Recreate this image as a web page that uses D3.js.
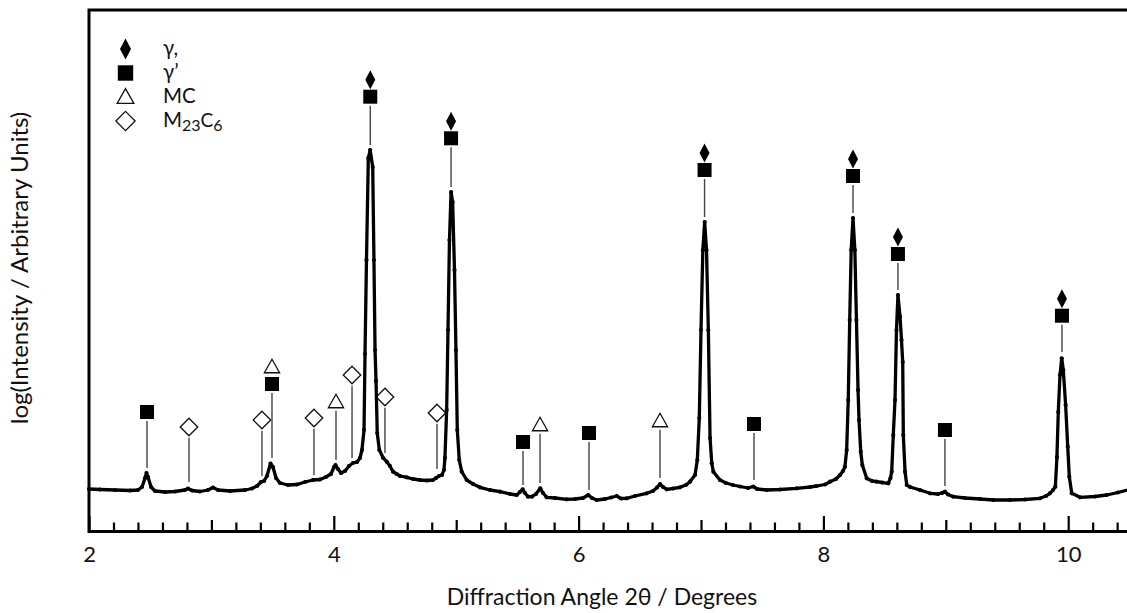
<!DOCTYPE html>
<html>
<head>
<meta charset="utf-8">
<script src="https://cdn.jsdelivr.net/npm/d3@7"></script>
<style>
  html, body { margin: 0; padding: 0; background: #fff; }
  svg { display: block; }
  text { font-family: Lato, "Open Sans", sans-serif; fill: #111; }
</style>
</head>
<body>
<svg id="chart" width="1127" height="613"></svg>
<script>
// Diffraction pattern: 2θ (degrees) and log intensity (arbitrary units)
const twoTheta = [
  2.000, 2.090, 2.212, 2.335, 2.400, 2.433, 2.458, 2.470, 2.482, 2.507,
  2.539, 2.621, 2.703, 2.784, 2.809, 2.842, 2.907, 2.972, 3.013, 3.054,
  3.152, 3.275, 3.332, 3.373, 3.405, 3.430, 3.454, 3.483, 3.503, 3.528,
  3.560, 3.626, 3.699, 3.765, 3.830, 3.887, 3.936, 3.977, 4.002, 4.014,
  4.034, 4.059, 4.092, 4.124, 4.157, 4.190, 4.214, 4.230, 4.247, 4.255,
  4.267, 4.282, 4.297, 4.318, 4.328, 4.337, 4.345, 4.355, 4.372, 4.404,
  4.432, 4.459, 4.484, 4.514, 4.541, 4.596, 4.647, 4.704, 4.761, 4.810,
  4.835, 4.859, 4.884, 4.900, 4.908, 4.922, 4.933, 4.945, 4.958, 4.971,
  4.986, 4.998, 5.009, 5.025, 5.045, 5.086, 5.137, 5.194, 5.276, 5.358,
  5.440, 5.494, 5.521, 5.543, 5.562, 5.587, 5.619, 5.652, 5.687, 5.709,
  5.739, 5.807, 5.903, 5.971, 6.036, 6.079, 6.109, 6.148, 6.216, 6.265,
  6.311, 6.346, 6.393, 6.461, 6.556, 6.608, 6.641, 6.665, 6.690, 6.720,
  6.771, 6.828, 6.877, 6.910, 6.951, 6.970, 6.986, 7.000, 7.015, 7.030,
  7.045, 7.060, 7.074, 7.088, 7.101, 7.155, 7.204, 7.261, 7.319, 7.384,
  7.427, 7.458, 7.537, 7.646, 7.782, 7.891, 7.945, 8.013, 8.054, 8.103,
  8.136, 8.160, 8.176, 8.190, 8.203, 8.215, 8.227, 8.242, 8.257, 8.270,
  8.283, 8.291, 8.305, 8.318, 8.354, 8.397, 8.435, 8.479, 8.530, 8.548,
  8.558, 8.571, 8.585, 8.597, 8.609, 8.626, 8.638, 8.648, 8.653, 8.667,
  8.681, 8.708, 8.789, 8.871, 8.936, 8.969, 8.993, 9.018, 9.061, 9.157,
  9.279, 9.388, 9.525, 9.647, 9.770, 9.819, 9.851, 9.876, 9.895, 9.908,
  9.919, 9.933, 9.947, 9.960, 9.979, 9.996, 10.009, 10.029, 10.097, 10.219,
  10.315, 10.407, 10.500
];
const logIntensity = [
  2.425, 2.420, 2.415, 2.410, 2.415, 2.445, 2.535, 2.585, 2.545, 2.445,
  2.405, 2.395, 2.400, 2.415, 2.430, 2.410, 2.400, 2.415, 2.440, 2.415,
  2.405, 2.415, 2.430, 2.455, 2.495, 2.505, 2.555, 2.680, 2.645, 2.535,
  2.485, 2.465, 2.470, 2.495, 2.515, 2.520, 2.545, 2.575, 2.645, 2.665,
  2.625, 2.585, 2.605, 2.655, 2.685, 2.695, 2.735, 2.815, 3.015, 3.775,
  4.715, 5.735, 5.815, 5.645, 4.715, 3.815, 3.505, 2.985, 2.815, 2.735,
  2.698, 2.655, 2.598, 2.575, 2.555, 2.542, 2.525, 2.515, 2.510, 2.515,
  2.535, 2.555, 2.565, 2.615, 2.735, 3.215, 4.015, 4.915, 5.395, 5.295,
  4.615, 3.815, 3.015, 2.715, 2.598, 2.515, 2.475, 2.442, 2.415, 2.398,
  2.375, 2.365, 2.395, 2.422, 2.385, 2.348, 2.348, 2.375, 2.432, 2.385,
  2.342, 2.335, 2.322, 2.325, 2.335, 2.365, 2.335, 2.315, 2.325, 2.340,
  2.355, 2.330, 2.332, 2.355, 2.382, 2.405, 2.440, 2.475, 2.445, 2.422,
  2.430, 2.442, 2.465, 2.498, 2.565, 2.715, 3.135, 4.015, 4.815, 5.095,
  4.815, 4.015, 2.935, 2.682, 2.598, 2.515, 2.485, 2.465, 2.450, 2.435,
  2.450, 2.425, 2.415, 2.420, 2.432, 2.445, 2.455, 2.470, 2.498, 2.525,
  2.565, 2.605, 2.648, 2.815, 3.315, 4.115, 4.815, 5.135, 4.815, 4.115,
  3.415, 3.115, 2.798, 2.665, 2.532, 2.505, 2.498, 2.490, 2.482, 2.535,
  2.598, 2.965, 3.315, 4.015, 4.365, 4.148, 3.915, 3.695, 2.965, 2.598,
  2.465, 2.445, 2.415, 2.382, 2.375, 2.385, 2.398, 2.370, 2.348, 2.335,
  2.325, 2.315, 2.315, 2.320, 2.332, 2.355, 2.382, 2.415, 2.448, 2.745,
  3.195, 3.565, 3.732, 3.615, 3.265, 2.848, 2.548, 2.382, 2.342, 2.350,
  2.365, 2.390, 2.420
];

// Indexed reflections: position, phases (bottom to top), marker level, stick foot
const markPos = [2.474, 2.817, 3.413, 3.495, 3.838, 4.018, 4.149, 4.298, 4.418, 4.843,
                 4.958, 5.546, 5.685, 6.085, 6.665, 7.029, 7.433, 8.242, 8.609, 8.993, 9.949];
const markPhases = [["gp"], ["m23"], ["m23"], ["gp", "mc"], ["m23"], ["mc"], ["m23"], ["gp", "g"], ["m23"], ["m23"],
                    ["gp", "g"], ["gp"], ["mc"], ["gp"], ["mc"], ["gp", "g"], ["gp"], ["gp", "g"], ["gp", "g"], ["gp"], ["gp", "g"]];
const markLevel = [3.195, 3.045, 3.115, 3.475, 3.135, 3.295, 3.565, 6.348, 3.345, 3.185,
                   5.932, 2.895, 3.065, 2.985, 3.105, 5.615, 3.075, 5.555, 4.775, 3.015, 4.158];
const markFoot = [2.635, 2.495, 2.555, 2.735, 2.565, 2.715, 2.735, 5.865, 2.785, 2.625,
                  5.445, 2.465, 2.485, 2.415, 2.535, 5.145, 2.515, 5.185, 4.415, 2.455, 3.795];

// Legend entries
const legendKeys = ["g", "gp", "mc", "m23"];

// Axis ticks
const majorTicks = [2, 4, 6, 8, 10];
const midTicks = [3, 5, 7, 9];
const minorTicks = [2.2, 2.4, 2.6, 2.8, 3.2, 3.4, 3.6, 3.8, 4.2, 4.4, 4.6, 4.8, 5.2, 5.4, 5.6, 5.8,
                    6.2, 6.4, 6.6, 6.8, 7.2, 7.4, 7.6, 7.8, 8.2, 8.4, 8.6, 8.8, 9.2, 9.4, 9.6, 9.8, 10.2, 10.4];

const xTitle = "Diffraction Angle 2θ / Degrees";
const yTitle = "log(Intensity / Arbitrary Units)";

// ---- layout ----
const svg = d3.select("#chart");
const plotLeft = 89, plotTop = 10, plotBottom = 531.5, pxPerDeg = 122.4;
const x = d3.scaleLinear().domain([2, 10.5]).range([plotLeft, plotLeft + 8.5 * pxPerDeg]);
const y = d3.scaleLinear().domain([2, 7.215]).range([plotBottom, plotTop]);

// symbol geometry
const sym = {
  g:   { half: 9.5,  draw: (g, s) => g.append("path").attr("d", `M0,${-9.5*s} L${5*s},0 L0,${9.5*s} L${-5*s},0 Z`).attr("fill", "#000") },
  gp:  { half: 7,    draw: (g, s) => g.append("rect").attr("x", -7*s).attr("y", -7*s).attr("width", 14*s).attr("height", 14*s).attr("fill", "#000") },
  mc:  { half: 6.75, draw: (g, s) => g.append("path").attr("d", `M0,${-6.75*s} L${7.6*s},${6.75*s} L${-7.6*s},${6.75*s} Z`).attr("fill", "#fff").attr("stroke", "#111").attr("stroke-width", 1.3) },
  m23: { half: 8.75, draw: (g, s) => g.append("path").attr("d", `M0,${-8.75*s} L${8.75*s},0 L0,${8.75*s} L${-8.75*s},0 Z`).attr("fill", "#fff").attr("stroke", "#111").attr("stroke-width", 1.3) }
};
const stackGap = 17;

// ---- frame ----
svg.append("rect")
  .attr("x", x(2)).attr("y", plotTop)
  .attr("width", x(10.5) - x(2)).attr("height", plotBottom - plotTop)
  .attr("fill", "none").attr("stroke", "#000").attr("stroke-width", 3);

// ---- x axis (inward ticks) ----
function tickLayer(values, size, labels) {
  const ax = d3.axisBottom(x).tickValues(values).tickSize(-size).tickSizeOuter(0);
  if (labels) ax.tickFormat(d3.format("d")).tickPadding(14.5);
  else ax.tickFormat("");
  const g = svg.append("g").attr("transform", `translate(0,${plotBottom})`).call(ax);
  g.select(".domain").remove();
  g.selectAll(".tick line").attr("stroke", "#000").attr("stroke-width", 2.2);
  g.selectAll(".tick text").attr("font-size", 22).attr("fill", "#111")
    .style("font-family", "Lato, 'Open Sans', sans-serif");
  return g;
}
tickLayer(minorTicks, 9, false);
tickLayer(midTicks, 11.5, false);
tickLayer(majorTicks, 15.5, true);

// ---- axis titles ----
svg.append("text")
  .attr("x", 602).attr("y", 605)
  .attr("text-anchor", "middle").attr("font-size", 23)
  .text(xTitle);

svg.append("text")
  .attr("transform", `translate(28,268) rotate(-90)`)
  .attr("text-anchor", "middle").attr("font-size", 24)
  .text(yTitle);

// ---- indexing sticks and markers ----
const marks = svg.append("g");
markPos.forEach((p, i) => {
  const cx = x(p);
  const cy = y(markLevel[i]);
  const phases = markPhases[i];
  const lowest = sym[phases[0]];
  marks.append("line")
    .attr("x1", cx).attr("x2", cx)
    .attr("y1", cy + lowest.half + 2).attr("y2", y(markFoot[i]))
    .attr("stroke", "#444").attr("stroke-width", 1.4);
  phases.forEach((ph, k) => {
    const g = marks.append("g").attr("transform", `translate(${cx},${cy - k * stackGap - (ph === "mc" ? 1 : 0)})`);
    sym[ph].draw(g, 1);
  });
});

// ---- pattern ----
const pts = twoTheta.map((t, i) => [t, logIntensity[i]]);
svg.append("clipPath").attr("id", "plotclip")
  .append("rect").attr("x", 0).attr("y", 0).attr("width", 1127).attr("height", plotBottom - 1.5);
const curveG = svg.append("g").attr("clip-path", "url(#plotclip)");
curveG.append("path")
  .datum(pts)
  .attr("d", d3.line().x(d => x(d[0])).y(d => y(d[1])))
  .attr("fill", "none").attr("stroke", "#000")
  .attr("stroke-width", 3.3).attr("stroke-linejoin", "round");
curveG.selectAll("circle.pt").data(pts).join("circle")
  .attr("class", "pt")
  .attr("cx", d => x(d[0])).attr("cy", d => y(d[1])).attr("r", 2.1)
  .attr("fill", "#000");

// ---- legend ----
const legendRows = [49, 73, 96, 121];
const legend = svg.append("g");
legendKeys.forEach((k, i) => {
  const g = legend.append("g").attr("transform", `translate(125.5,${legendRows[i]})`);
  sym[k].draw(g, 1.1);
});
const lx = 163, lfs = 20.5;
legend.append("text").attr("x", lx).attr("y", legendRows[0] + 5.5).attr("font-size", lfs).text("γ,");
legend.append("text").attr("x", lx).attr("y", legendRows[1] + 5.5).attr("font-size", lfs).text("γ’");
legend.append("text").attr("x", lx).attr("y", legendRows[2] + 7).attr("font-size", lfs).text("MC");
const m23 = legend.append("text").attr("x", lx).attr("y", legendRows[3] + 6).attr("font-size", lfs);
m23.append("tspan").text("M");
m23.append("tspan").attr("font-size", 16).attr("dy", 4).text("23");
m23.append("tspan").attr("font-size", 19).attr("dy", -4).text("C");
m23.append("tspan").attr("font-size", 16).attr("dy", 4).text("6");
</script>
</body>
</html>
